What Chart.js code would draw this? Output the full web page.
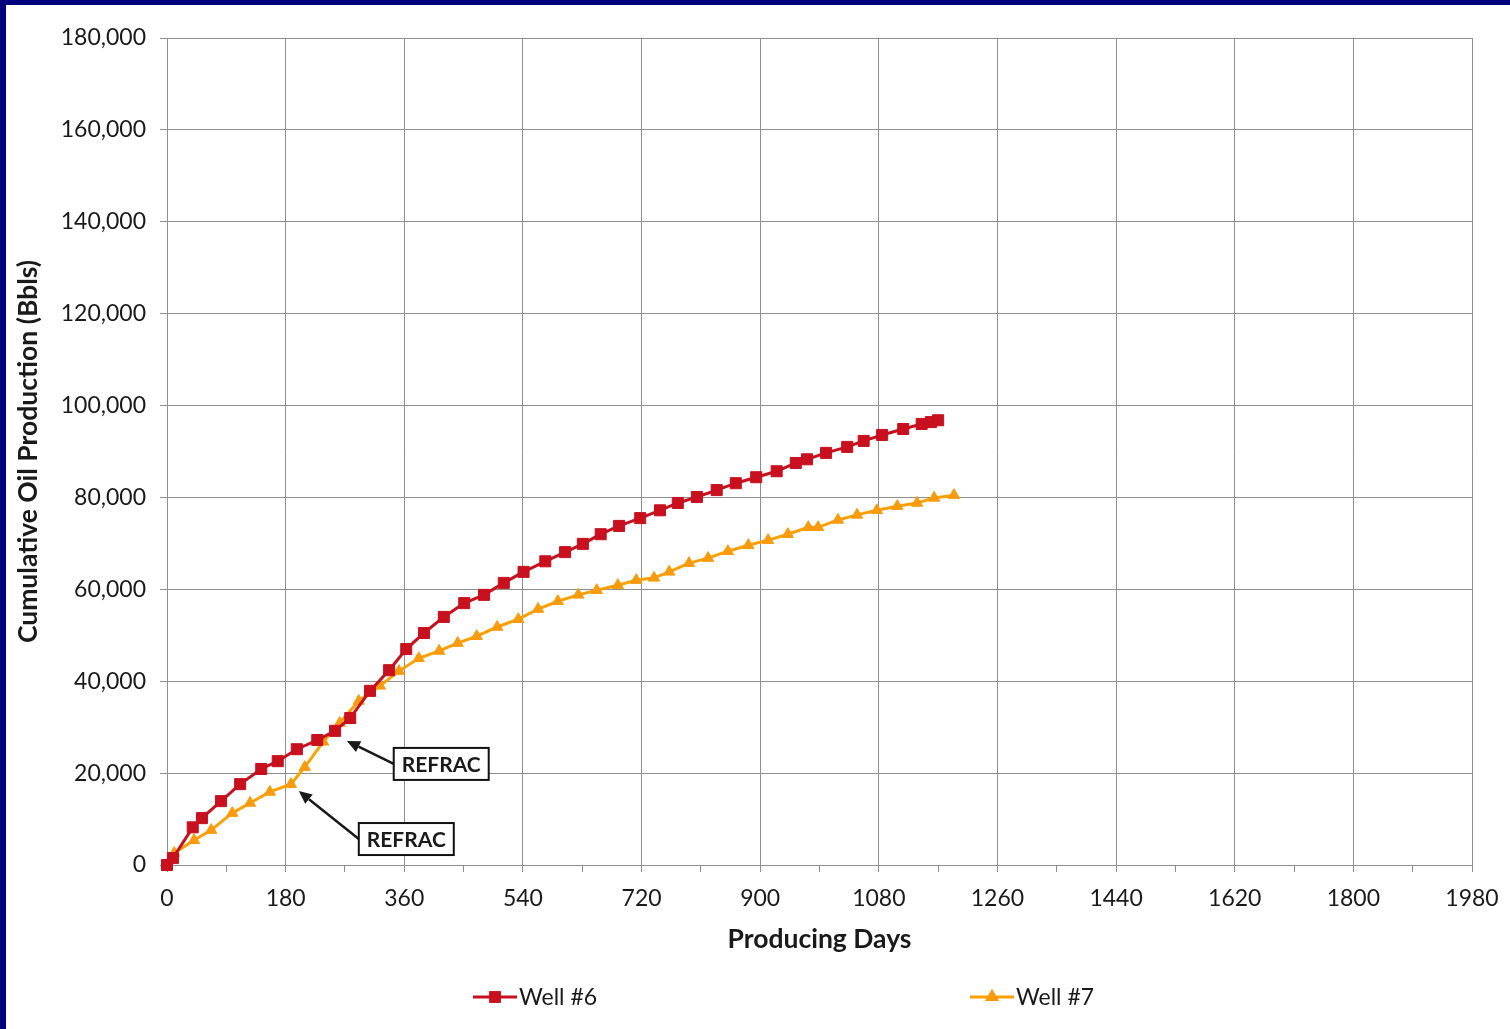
<!DOCTYPE html>
<html>
<head>
<meta charset="utf-8">
<script src="https://cdn.jsdelivr.net/npm/chart.js@4.4.1/dist/chart.umd.min.js"></script>
<style>
  html, body { margin: 0; padding: 0; background: #00007F; }
  #wrap { position: absolute; left: 6px; top: 5px; width: 1504px; height: 1024px; background: #ffffff; }
</style>
</head>
<body>
<div id="wrap"><canvas id="c"></canvas></div>
<script>
// ---- data ----
const seriesNames = ['Well #6', 'Well #7'];

const well6Days = [0, 9, 39, 53, 82, 111, 143, 168, 197, 228, 255, 278, 308, 337, 363, 390, 420, 451, 481, 511, 541, 574, 604, 631, 658, 686, 718, 748, 775, 804, 834, 863, 894, 925, 954, 971, 1000, 1032, 1057, 1085, 1117, 1145, 1159, 1170];
const well6Oil  = [0, 1500, 8200, 10200, 13900, 17600, 20900, 22600, 25200, 27200, 29200, 32000, 37900, 42400, 47000, 50500, 54000, 57000, 58800, 61400, 63800, 66100, 68100, 69900, 72000, 73800, 75500, 77200, 78800, 80100, 81600, 83100, 84400, 85700, 87500, 88300, 89700, 91000, 92300, 93600, 94900, 96000, 96400, 96800];

const well7Days = [0, 11, 41, 67, 99, 126, 156, 188, 209, 237, 262, 291, 323, 352, 382, 413, 441, 470, 501, 533, 563, 593, 624, 652, 684, 712, 739, 762, 792, 821, 851, 882, 912, 942, 973, 988, 1018, 1047, 1077, 1108, 1138, 1164, 1194];
const well7Oil  = [0, 2600, 5400, 7600, 11300, 13500, 15900, 17600, 21300, 26800, 30900, 35700, 39000, 42200, 45000, 46600, 48300, 49800, 51800, 53500, 55700, 57400, 58800, 59800, 60900, 62000, 62500, 63800, 65700, 66800, 68300, 69600, 70700, 72000, 73500, 73500, 75100, 76200, 77200, 78100, 78800, 79900, 80500];

const xMin = 0, xMax = 1980, xMajorStep = 180, xMinorStep = 90;
const yMin = 0, yMax = 180000, yStep = 20000;

const xTitle = 'Producing Days';
const yTitle = 'Cumulative Oil Production (Bbls)';

// annotations: arrow tip and box anchor, in data units (day, bbls)
const annotationText = ['REFRAC', 'REFRAC'];
const annotationTipDay = [273, 200];
const annotationTipOil = [27000, 16100];
const annotationBoxDay = [344, 291];
const annotationBoxOil = [22000, 5650];

// ---- build ----
function toPoints(xs, ys) { return xs.map((x, i) => ({ x: x, y: ys[i] })); }

const GRID = '#8f8f8f';
const RED = '#C8101E';
const ORANGE = '#FFA000';

const annotationPlugin = {
  id: 'refracNotes',
  afterDatasetsDraw(chart) {
    const { ctx, scales: { x, y } } = chart;
    ctx.save();
    ctx.font = 'bold 21px Lato';
    annotationText.forEach((txt, i) => {
      const tx = x.getPixelForValue(annotationTipDay[i]);
      const ty = y.getPixelForValue(annotationTipOil[i]);
      const bx = x.getPixelForValue(annotationBoxDay[i]);
      const by = y.getPixelForValue(annotationBoxOil[i]);
      const tw = ctx.measureText(txt).width;
      const bw = tw + 16, bh = 32;
      const ang = Math.atan2(ty - by, tx - bx);
      const headLen = 13, headW = 6;
      const hx = tx - headLen * Math.cos(ang), hy = ty - headLen * Math.sin(ang);
      ctx.strokeStyle = '#1a1a1a';
      ctx.lineWidth = 2.5;
      ctx.beginPath();
      ctx.moveTo(bx, by);
      ctx.lineTo(hx, hy);
      ctx.stroke();
      ctx.fillStyle = '#1a1a1a';
      ctx.beginPath();
      ctx.moveTo(tx, ty);
      ctx.lineTo(hx + headW * Math.sin(ang), hy - headW * Math.cos(ang));
      ctx.lineTo(hx - headW * Math.sin(ang), hy + headW * Math.cos(ang));
      ctx.closePath();
      ctx.fill();
      ctx.fillStyle = '#ffffff';
      ctx.fillRect(bx, by - bh / 2, bw, bh);
      ctx.lineWidth = 2;
      ctx.strokeStyle = '#111111';
      ctx.strokeRect(bx, by - bh / 2, bw, bh);
      ctx.fillStyle = '#1a1a1a';
      ctx.textAlign = 'center';
      ctx.textBaseline = 'middle';
      ctx.fillText(txt, bx + bw / 2, by + 1);
    });
    ctx.restore();
  }
};

const legendPlugin = {
  id: 'spreadLegend',
  afterDraw(chart) {
    const { ctx } = chart;
    const starts = [467, 964];
    const yMid = 992;
    ctx.save();
    chart.data.datasets.forEach((ds, i) => {
      const x0 = starts[i];
      ctx.strokeStyle = ds.borderColor;
      ctx.lineWidth = 3;
      ctx.beginPath();
      ctx.moveTo(x0, yMid);
      ctx.lineTo(x0 + 44, yMid);
      ctx.stroke();
      Chart.helpers.drawPoint(ctx, {
        pointStyle: ds.pointStyle,
        radius: ds.pointStyle === 'rect' ? 6 : 5,
        borderWidth: 1
      }, x0 + 22, yMid);
      ctx.fillStyle = ds.pointBackgroundColor;
      ctx.strokeStyle = ds.pointBorderColor;
      ctx.fill();
      ctx.stroke();
      ctx.fillStyle = '#1a1a1a';
      ctx.font = '23px Lato';
      ctx.textAlign = 'left';
      ctx.textBaseline = 'middle';
      ctx.fillText(ds.label, x0 + 46, yMid + 1);
    });
    ctx.restore();
  }
};

function build() {
  new Chart(document.getElementById('c'), {
    type: 'line',
    data: {
      datasets: [
        {
          label: seriesNames[0],
          data: toPoints(well6Days, well6Oil),
          borderColor: RED,
          backgroundColor: RED,
          pointBackgroundColor: RED,
          pointBorderColor: RED,
          borderWidth: 3,
          pointStyle: 'rect',
          pointRadius: 7.8,
          pointBorderWidth: 1,
          tension: 0,
          clip: false
        },
        {
          label: seriesNames[1],
          data: toPoints(well7Days, well7Oil),
          borderColor: ORANGE,
          backgroundColor: ORANGE,
          pointBackgroundColor: '#F99B0C',
          pointBorderColor: '#F99B0C',
          borderWidth: 3,
          pointStyle: 'triangle',
          pointRadius: 6.5,
          pointBorderWidth: 1,
          tension: 0,
          clip: false
        }
      ]
    },
    options: {
      responsive: true,
      maintainAspectRatio: false,
      animation: false,
      layout: { padding: { left: 0, right: 38, top: 33, bottom: 74 } },
      plugins: {
        legend: { display: false },
        tooltip: { enabled: false }
      },
      scales: {
        x: {
          type: 'linear',
          min: xMin, max: xMax,
          afterBuildTicks(scale) {
            const t = [];
            for (let v = xMin; v <= xMax; v += xMinorStep) t.push({ value: v });
            scale.ticks = t;
          },
          afterFit(scale) { scale.height = 90; scale.paddingRight = 20; scale.paddingLeft = 20; },
          ticks: {
            autoSkip: false,
            maxRotation: 0,
            padding: 13,
            color: '#1a1a1a',
            font: { family: 'Lato', size: 23 },
            callback: (v) => (v % xMajorStep === 0 ? String(v) : '')
          },
          grid: {
            color: (c) => (c.tick && c.tick.value % xMajorStep === 0 ? GRID : 'rgba(0,0,0,0)'),
            tickColor: GRID,
            tickLength: 7,
            lineWidth: 1
          },
          border: { color: GRID, width: 1 },
          title: {
            display: true,
            text: xTitle,
            color: '#1a1a1a',
            font: { family: 'Lato', size: 26.5, weight: 'bold' },
            padding: { top: 0, bottom: 0 }
          }
        },
        y: {
          type: 'linear',
          min: yMin, max: yMax,
          afterFit(scale) { scale.width = 161; scale.paddingTop = 10; },
          ticks: {
            stepSize: yStep,
            padding: 14,
            color: '#1a1a1a',
            font: { family: 'Lato', size: 23 },
            callback: (v) => v.toLocaleString('en-US')
          },
          grid: { color: GRID, tickColor: GRID, tickLength: 7, lineWidth: 1 },
          border: { color: GRID, width: 1 },
          title: {
            display: true,
            text: yTitle,
            color: '#1a1a1a',
            font: { family: 'Lato', size: 26.5, weight: 'bold' },
            padding: { top: 7, bottom: 0 }
          }
        }
      }
    },
    plugins: [annotationPlugin, legendPlugin]
  });
}

Promise.all([
  document.fonts.load('23px Lato'),
  document.fonts.load('bold 26px Lato')
]).then(build, build);
</script>
</body>
</html>
